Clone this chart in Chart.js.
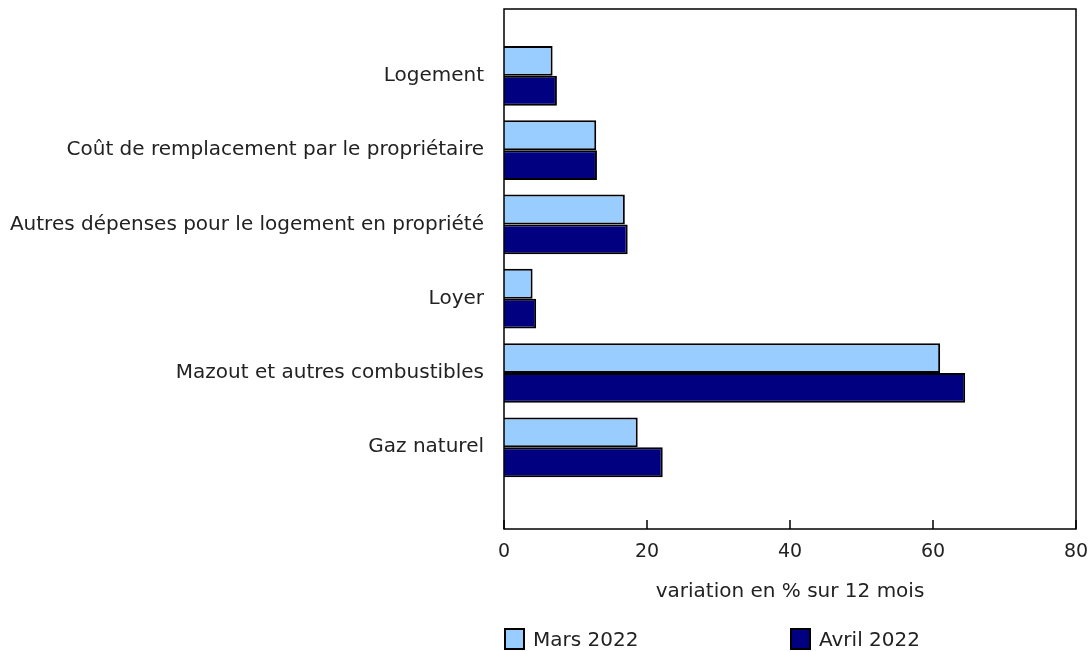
<!DOCTYPE html>
<html>
<head>
<meta charset="utf-8">
<script src="https://cdn.jsdelivr.net/npm/chart.js@4"></script>
<style>
    body { margin: 0; background: #fff; font-family: "DejaVu Sans", Verdana, sans-serif; }
    #wrap { position: relative; width: 1090px; height: 652px; }
    .legend-item { position: absolute; top: 628px; display: flex; align-items: center; font-size: 20px; line-height: 22px; color: #222; }
    .legend-box { width: 21px; height: 22px; border: 2px solid #000; box-sizing: border-box; margin-right: 8px; }
</style>
</head>
<body>
<div id="wrap">
    <canvas id="chart" width="1090" height="652"></canvas>
    <div id="legend"></div>
</div>
<script>
const categories = [
    "Logement",
    "Coût de remplacement par le propriétaire",
    "Autres dépenses pour le logement en propriété",
    "Loyer",
    "Mazout et autres combustibles",
    "Gaz naturel"
];
const mars2022 = [6.8, 12.9, 16.9, 4.0, 61.0, 18.7];
const avril2022 = [7.4, 13.0, 17.3, 4.5, 64.5, 22.2];
const seriesNames = ["Mars 2022", "Avril 2022"];
const xTicks = [0, 20, 40, 60, 80];

const textColor = "#222";
const fontFamily = "'DejaVu Sans', Verdana, sans-serif";
const font20 = { family: fontFamily, size: 20 };
const font19 = { family: fontFamily, size: 19 };

// frame around the plot + short ticks pointing inside
const framePlugin = {
    id: "frame",
    afterDatasetsDraw(chart) {
        const { ctx, chartArea: a, scales: { x } } = chart;
        ctx.save();
        ctx.strokeStyle = "#000";
        ctx.lineWidth = 1.5;
        ctx.strokeRect(a.left, a.top, a.right - a.left, a.bottom - a.top);
        ctx.beginPath();
        xTicks.forEach(t => {
            const px = x.getPixelForValue(t);
            ctx.moveTo(px, a.bottom);
            ctx.lineTo(px, a.bottom - 9);
        });
        ctx.stroke();
        ctx.restore();
    }
};

const toPoints = arr => arr.map((v, i) => ({ x: v, y: i }));

// no extra room for half labels at the ends of the axes
const noEdgePadding = s => {
    s.paddingTop = 0;
    s.paddingBottom = 0;
    s.paddingLeft = 0;
    s.paddingRight = 0;
};

const chart = new Chart(document.getElementById("chart"), {
    type: "bar",
    data: {
        datasets: [{
            label: seriesNames[0],
            data: toPoints(mars2022),
            backgroundColor: "#99ccff",
            borderColor: "#000",
            borderWidth: 2
        }, {
            label: seriesNames[1],
            data: toPoints(avril2022),
            backgroundColor: "#000080",
            borderColor: "#000",
            borderWidth: 2
        }]
    },
    options: {
        indexAxis: "y",
        responsive: false,
        animation: false,
        barPercentage: 1,
        categoryPercentage: 0.804,
        layout: { padding: { top: 9, right: 14, left: 0, bottom: 0 } },
        plugins: {
            legend: { display: false },
            tooltip: { enabled: false }
        },
        scales: {
            y: {
                type: "linear",
                reverse: true,
                offset: false,
                min: -0.9,
                max: 6.1,
                afterBuildTicks: s => { s.ticks = categories.map((c, i) => ({ value: i })); },
                afterFit: s => { s.width = 504; noEdgePadding(s); },
                grid: { display: false, drawTicks: false, offset: false },
                border: { display: false },
                ticks: {
                    autoSkip: false,
                    padding: 20,
                    color: textColor,
                    font: font20,
                    callback: v => categories[v]
                }
            },
            x: {
                type: "linear",
                min: 0,
                max: 80,
                afterBuildTicks: s => { s.ticks = xTicks.map(v => ({ value: v })); },
                afterFit: s => { s.height = 123; noEdgePadding(s); },
                grid: { display: false, drawTicks: false },
                border: { display: false },
                ticks: { padding: 12, color: textColor, font: font19 },
                title: {
                    display: true,
                    text: "variation en % sur 12 mois",
                    color: textColor,
                    font: font20,
                    padding: { top: 0, bottom: 48 }
                }
            }
        }
    },
    plugins: [framePlugin]
});

// legend below the chart
const legendX = [504, 790];
const legend = document.getElementById("legend");
chart.data.datasets.forEach((ds, i) => {
    let div = document.createElement("div");
    div.className = "legend-item";
    div.style.left = legendX[i] + "px";
    div.innerHTML = `<span class="legend-box" style="background:${ds.backgroundColor}"></span>${ds.label}`;
    legend.appendChild(div);
});
</script>
</body>
</html>
